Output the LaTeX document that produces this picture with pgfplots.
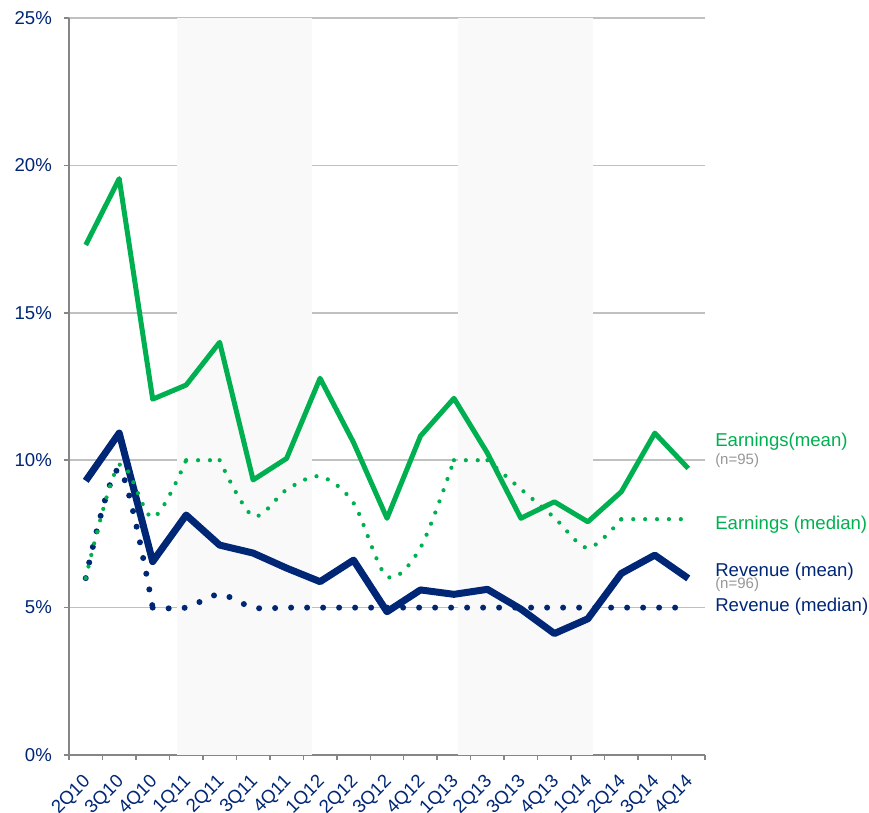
\documentclass[border=0pt]{standalone}
\usepackage{pgfplots}
\pgfplotsset{compat=1.18}
\usepackage{fontspec}
\setmainfont{Liberation Sans}
\definecolor{navy}{RGB}{0,38,118}
\definecolor{egreen}{RGB}{0,176,80}
\definecolor{axgray}{RGB}{134,134,134}
\definecolor{grgray}{RGB}{192,192,192}
\definecolor{band}{RGB}{249,249,249}
\definecolor{ngray}{RGB}{150,150,150}
\begin{document}
\begin{tikzpicture}
\begin{axis}[
 set layers,
 at={(0pt,0pt)}, anchor=south west,
 scale only axis, width=636pt, height=737pt,
 xmin=-0.5, xmax=18.5, ymin=0, ymax=25,
 clip=false,
 axis x line*=bottom, axis y line*=left,
 axis line style={axgray, line width=2pt},
 ytick={0,5,...,25}, yticklabels={0\%,5\%,10\%,15\%,20\%,25\%},
 xtick={0,...,18},
 xticklabels={2Q10,3Q10,4Q10,1Q11,2Q11,3Q11,4Q11,1Q12,2Q12,3Q12,4Q12,1Q13,2Q13,3Q13,4Q13,1Q14,2Q14,3Q14,4Q14},
 minor xtick={-0.5,0.5,...,18.5},
 tick align=outside, major tick length=5pt, minor tick length=5pt,
 tick style={axgray, line width=1.5pt},
 major x tick style={draw=none},
 ymajorgrids, major grid style={grgray, line width=1.5pt},
 ticklabel style={font=\fontsize{18.6}{21}\selectfont, text=navy},
 yticklabel style={anchor=east, inner sep=0pt, xshift=-12pt},
 xticklabel style={yshift=-19pt, xshift=2pt, rotate=45, anchor=east, inner sep=0pt},
 rmed/.style={navy, line width=6pt, dash pattern=on 0pt off 16pt, line cap=round},
 emed/.style={egreen, line width=4.2pt, dash pattern=on 0pt off 11.9pt, line cap=round},
]
\fill[band, on layer=axis background] (axis cs:2.717,0) rectangle (axis cs:6.75,25);
\fill[band, on layer=axis background] (axis cs:11.11,0) rectangle (axis cs:15.14,25);

% Revenue (median)
\addplot[rmed, smooth, tension=0.5] coordinates {(0,6.0)(1,9.7)(2,5.0)};
\addplot[rmed, smooth, tension=0.5] coordinates {
(2,5.0)(3,5.0)(4,5.45)(5,5.0)(6,5.0)(7,5.0)(8,5.0)(9,5.0)(10,5.0)(11,5.0)(12,5.0)(13,5.0)(14,5.0)(15,5.0)(16,5.0)(17,5.0)(18,5.0)};
% Revenue (mean)
\addplot[navy, line width=7pt, line join=round] coordinates {
(0,9.3)(1,10.92)(2,6.56)(3,8.14)(4,7.12)(5,6.85)(6,6.34)(7,5.88)(8,6.61)(9,4.86)(10,5.6)(11,5.45)(12,5.62)(13,4.95)(14,4.12)(15,4.62)(16,6.16)(17,6.78)(18,5.99)};
% Earnings (median)
\addplot[emed, smooth, tension=0.5] coordinates {(0,6.0)(1,9.84)(2,8.05)(3,10.0)};
\addplot[emed] coordinates {(3,10.0)(4,10.0)};
\addplot[emed, smooth, tension=0.5] coordinates {(4,10.0)(5,8.1)(6,9.0)(7,9.45)(8,8.55)(9,6.05)(10,7.03)(11,10.0)};
\addplot[emed] coordinates {(11,10.0)(12,10.0)};
\addplot[emed, smooth, tension=0.5] coordinates {(12,10.0)(13,9.02)(14,8.05)(15,7.02)(16,8.0)};
\addplot[emed] coordinates {(16,8.0)(17,8.0)(18,8.0)};
% Earnings (mean)
\addplot[egreen, line width=5pt, line join=round] coordinates {
(0,17.3)(1,19.55)(2,12.07)(3,12.55)(4,14.0)(5,9.33)(6,10.06)(7,12.78)(8,10.6)(9,8.03)(10,10.82)(11,12.1)(12,10.24)(13,8.03)(14,8.59)(15,7.91)(16,8.93)(17,10.92)(18,9.72)};

\node[anchor=west, inner sep=0pt, egreen, font=\fontsize{18.6}{21}\selectfont] at (axis cs:18.80,10.64) {Earnings(mean)};
\node[anchor=west, inner sep=0pt, ngray, font=\fontsize{15}{17}\selectfont] at (axis cs:18.80,10.0) {(n=95)};
\node[anchor=west, inner sep=0pt, egreen, font=\fontsize{18.6}{21}\selectfont] at (axis cs:18.80,7.80) {Earnings (median)};
\node[anchor=west, inner sep=0pt, navy, font=\fontsize{18.6}{21}\selectfont] at (axis cs:18.80,6.22) {Revenue (mean)};
\node[anchor=west, inner sep=0pt, ngray, font=\fontsize{15}{17}\selectfont] at (axis cs:18.80,5.77) {(n=96)};
\node[anchor=west, inner sep=0pt, navy, font=\fontsize{18.6}{21}\selectfont] at (axis cs:18.80,5.03) {Revenue (median)};
\end{axis}
\pgfresetboundingbox
\path[use as bounding box] (-69pt,-57pt) rectangle (800pt,755pt);
\end{tikzpicture}
\end{document}
